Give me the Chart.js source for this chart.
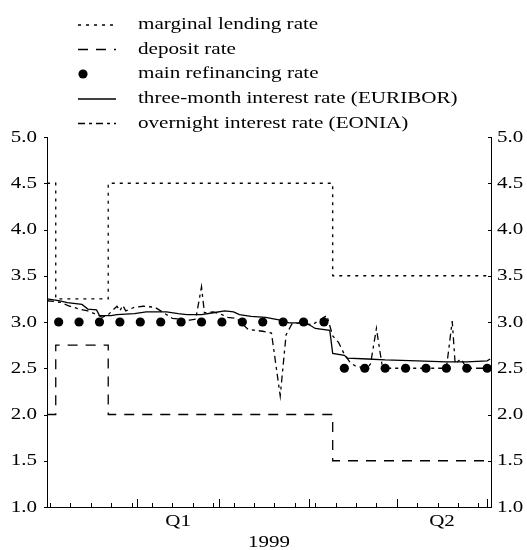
<!DOCTYPE html>
<html>
<head>
<meta charset="utf-8">
<script src="https://cdn.jsdelivr.net/npm/chart.js@4/dist/chart.umd.min.js"></script>
<style>
  html, body { margin: 0; padding: 0; background: #fff; }
</style>
</head>
<body>
<canvas id="myChart" width="527" height="550"></canvas>
<script>
// day of 1999 (1 = 1 January)
const marginalDays = [1, 4, 22, 99, 153];
const marginalRates = [4.5, 3.25, 4.5, 3.5, 3.5];

const depositDays = [1, 4, 22, 99, 153];
const depositRates = [2.0, 2.75, 2.0, 1.5, 1.5];

const refiDays = [5, 12, 19, 26, 33, 40, 47, 54, 61, 68, 75, 82, 89, 96, 103, 110, 117, 124, 131, 138, 145, 152];
const refiRates = [3.0, 3.0, 3.0, 3.0, 3.0, 3.0, 3.0, 3.0, 3.0, 3.0, 3.0, 3.0, 3.0, 3.0,
                   2.5, 2.5, 2.5, 2.5, 2.5, 2.5, 2.5, 2.5];

const euriborDays = [1, 5, 8, 13, 15, 18, 19, 23, 25, 31, 35, 42, 46, 49, 51, 54, 58, 62, 65, 67, 71, 76,
                     81, 84, 88, 91, 93, 98, 99, 103, 104, 111, 117, 128, 138, 145, 152, 153];
const euriborRates = [3.25, 3.23, 3.21, 3.19, 3.14, 3.13, 3.07, 3.07, 3.08, 3.09, 3.11, 3.11, 3.09, 3.08, 3.08, 3.08, 3.10, 3.12, 3.11, 3.08, 3.06, 3.05,
                      3.02, 2.99, 2.99, 2.97, 2.93, 2.91, 2.66, 2.64, 2.61, 2.60, 2.59, 2.58, 2.57, 2.57, 2.58, 2.60];

const eoniaDays = [1, 4, 6, 8, 12, 15, 18, 20, 22, 25, 26, 27, 28, 31, 34, 38, 40, 44, 50, 52, 54, 55, 58, 61, 63, 66,
                   70, 75, 78, 81, 83, 85, 88, 92, 96, 97, 99, 101, 103, 105, 107, 111, 112, 114, 116, 118, 138, 140, 141, 143, 145, 153];
const eoniaRates = [3.23, 3.22, 3.21, 3.18, 3.14, 3.12, 3.08, 3.05, 3.08, 3.17, 3.12, 3.18, 3.12, 3.16, 3.17, 3.16, 3.12, 3.04, 3.02, 3.03, 3.38, 3.10, 3.11, 3.08, 3.05, 3.04,
                    2.92, 2.90, 2.88, 2.20, 2.86, 2.98, 2.99, 2.97, 3.05, 3.07, 2.85, 2.78, 2.65, 2.56, 2.52, 2.50, 2.55, 2.93, 2.52, 2.50, 2.50, 3.01, 2.55, 2.60, 2.50, 2.50];

const weekTicks = [2, 9, 16, 23, 30, 37, 44, 51, 58, 65, 72, 79, 86, 93, 100, 107, 114, 121, 128, 135, 142, 149];
const monthTicks = [32, 60, 91, 121, 152];
const quarterPos = [46, 136.5];
const quarterLabels = ['Q1', 'Q2'];
const yearLabel = '1999';

const SERIF = '"Liberation Serif", "Times New Roman", serif';

function pts(days, vals) {
    return days.map((d, i) => ({ x: d, y: vals[i] }));
}

// Times-like text, widened to match the reference
function wideText(ctx, text, x, y, size, sx, align) {
    ctx.save();
    ctx.font = size + 'px ' + SERIF;
    ctx.textBaseline = 'middle';
    ctx.textAlign = 'left';
    const w = ctx.measureText(text).width * sx;
    let left = x;
    if (align === 'right') left = x - w;
    else if (align === 'center') left = x - w / 2;
    ctx.translate(left, y);
    ctx.scale(sx, 1);
    ctx.fillStyle = '#000';
    ctx.fillText(text, 0, 0);
    ctx.restore();
}

// tick marks and labels
const axisDecor = {
    id: 'axisDecor',
    afterDraw(chart) {
        const ctx = chart.ctx;
        const xs = chart.scales.x;
        const ys = chart.scales.y;
        const { left, right, bottom } = chart.chartArea;
        ctx.save();
        ctx.strokeStyle = '#000';
        ctx.lineWidth = 1;
        ctx.beginPath();
        weekTicks.forEach(d => {
            const px = Math.round(xs.getPixelForValue(d)) + 0.5;
            ctx.moveTo(px, bottom);
            ctx.lineTo(px, bottom - 4);
        });
        monthTicks.forEach(d => {
            const px = Math.round(xs.getPixelForValue(d)) + 0.5;
            ctx.moveTo(px, bottom);
            ctx.lineTo(px, bottom - 8);
        });
        ys.ticks.forEach(t => {
            const py = Math.round(ys.getPixelForValue(t.value)) + 0.5;
            ctx.moveTo(left - 3, py);
            ctx.lineTo(left, py);
            ctx.moveTo(right, py);
            ctx.lineTo(right - 3, py);
        });
        ctx.stroke();
        ctx.restore();

        ys.ticks.forEach(t => {
            const py = ys.getPixelForValue(t.value);
            const s = t.value.toFixed(1);
            wideText(ctx, s, left - 10, py, 17.5, 1.2, 'right');
            wideText(ctx, s, right + 6, py, 17.5, 1.2, 'left');
        });
        quarterPos.forEach((d, i) => {
            wideText(ctx, quarterLabels[i], xs.getPixelForValue(d), bottom + 14, 17.5, 1.2, 'center');
        });
        wideText(ctx, yearLabel, (left + right) / 2, bottom + 35, 17.5, 1.2, 'center');
    }
};

// legend in one column above the plot
const legendRows = {
    id: 'legendRows',
    afterDraw(chart) {
        const ctx = chart.ctx;
        const rowY = [25, 49.5, 74, 99, 123.5];
        chart.data.datasets.forEach((ds, i) => {
            const y = rowY[i];
            ctx.save();
            if (ds.showLine === false) {
                ctx.fillStyle = '#000';
                ctx.beginPath();
                ctx.arc(83, y, ds.pointRadius, 0, Math.PI * 2);
                ctx.fill();
            } else {
                ctx.strokeStyle = ds.borderColor;
                ctx.lineWidth = ds.borderWidth;
                ctx.setLineDash(ds.borderDash || []);
                ctx.beginPath();
                ctx.moveTo(78, y);
                ctx.lineTo(116, y);
                ctx.stroke();
            }
            ctx.restore();
            wideText(ctx, ds.label, 138, y, 16, 1.32, 'left');
        });
    }
};

const options = {
    type: 'line',
    data: {
        datasets: [{
            label: 'marginal lending rate',
            data: pts(marginalDays, marginalRates),
            stepped: true,
            borderColor: '#000',
            borderWidth: 1.3,
            borderDash: [3, 5],
            pointRadius: 0
        }, {
            label: 'deposit rate',
            data: pts(depositDays, depositRates),
            stepped: true,
            borderColor: '#000',
            borderWidth: 1.3,
            borderDash: [10, 8],
            pointRadius: 0
        }, {
            label: 'main refinancing rate',
            data: pts(refiDays, refiRates),
            showLine: false,
            pointRadius: 4.6,
            pointBackgroundColor: '#000',
            pointBorderWidth: 0,
            borderColor: '#000'
        }, {
            label: 'three-month interest rate (EURIBOR)',
            data: pts(euriborDays, euriborRates),
            borderColor: '#000',
            borderWidth: 1.3,
            pointRadius: 0,
            tension: 0
        }, {
            label: 'overnight interest rate (EONIA)',
            data: pts(eoniaDays, eoniaRates),
            borderColor: '#000',
            borderWidth: 1.3,
            borderDash: [7, 4, 3, 4],
            pointRadius: 0,
            tension: 0
        }]
    },
    options: {
        responsive: false,
        animation: false,
        devicePixelRatio: 1,
        layout: { padding: { left: 47, right: 36, top: 137, bottom: 43 } },
        plugins: {
            legend: { display: false },
            tooltip: { enabled: false }
        },
        scales: {
            x: {
                type: 'linear',
                min: 1,
                max: 153.3,
                grid: { display: false, drawTicks: false },
                border: { display: true, color: '#000', width: 1 },
                ticks: { display: false }
            },
            y: {
                position: 'left',
                min: 1,
                max: 5,
                grid: { display: false, drawTicks: false },
                border: { display: true, color: '#000', width: 1 },
                ticks: { display: false, stepSize: 0.5 }
            },
            y2: {
                position: 'right',
                min: 1,
                max: 5,
                grid: { display: false, drawTicks: false },
                border: { display: true, color: '#000', width: 1 },
                ticks: { display: false, stepSize: 0.5 }
            }
        }
    },
    plugins: [axisDecor, legendRows]
};

new Chart(document.getElementById('myChart'), options);
</script>
</body>
</html>
